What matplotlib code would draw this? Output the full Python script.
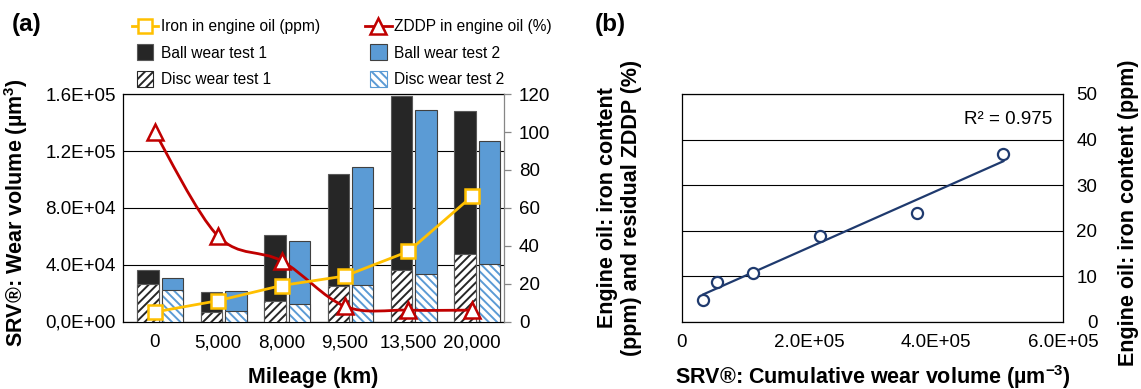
import matplotlib
matplotlib.use('Agg')
import matplotlib.pyplot as plt
import numpy as np
from matplotlib.path import Path
from matplotlib.patches import PathPatch, Patch, Rectangle
from matplotlib.lines import Line2D
from matplotlib.legend_handler import HandlerPatch

plt.rcParams['font.family'] = ['Liberation Sans', 'DejaVu Sans']
plt.rcParams['mathtext.fontset'] = 'custom'
plt.rcParams['mathtext.rm'] = 'Liberation Sans'
plt.rcParams['mathtext.bf'] = 'Liberation Sans:bold'
plt.rcParams['hatch.linewidth'] = 1.4

# (a) SRV wear volume vs mileage
mileage = ['0', '5,000', '8,000', '9,500', '13,500', '20,000']
ball_1 = [36000, 20700, 60700, 103800, 158800, 148000]
ball_2 = [30300, 21400, 56700, 108500, 149200, 127000]
disc_1 = [26600, 6800, 14600, 25200, 36200, 47800]
disc_2 = [22100, 7100, 12000, 25600, 33400, 40700]
iron_ppm = [5, 11, 19, 24, 37, 66]
zddp_pct = [100, 45, 32, 8, 6, 6]
wear_ticks = [0, 4e4, 8e4, 1.2e5, 1.6e5]
wear_ticklabels = ['0,0E+00', '4.0E+04', '8.0E+04', '1.2E+05', '1.6E+05']
oil_ticks = [0, 20, 40, 60, 80, 100, 120]

# (b) iron content vs cumulative wear volume
cum_wear = [34000, 55000, 112000, 217500, 370500, 505700]
iron_b = [4.7, 8.7, 10.8, 18.8, 23.8, 36.8]
cum_ticks = [0, 2e5, 4e5, 6e5]
cum_ticklabels = ['0', '2.0E+05', '4.0E+05', '6.0E+05']
iron_b_ticks = [0, 10, 20, 30, 40, 50]
r2_label = 'R² = 0.975'

BLACK = '#262626'
BLUE = '#5B9BD5'
ORANGE = '#FFC000'
RED = '#C00000'
NAVY = '#1F3A6E'
TICK_FS = 13.5
LABEL_FS = 15.5


def smooth_path(x, y):
    # Catmull-Rom style cubic Bezier through the points (spreadsheet "smoothed line")
    pts = np.column_stack([x, y]).astype(float)
    ext = np.vstack([pts[0], pts, pts[-1]])
    verts = [pts[0]]
    codes = [Path.MOVETO]
    for i in range(len(pts) - 1):
        p0, p1, p2, p3 = ext[i], ext[i + 1], ext[i + 2], ext[i + 3]
        verts += [p1 + (p2 - p0) / 6, p2 - (p3 - p1) / 6, p2]
        codes += [Path.CURVE4] * 3
    return Path(verts, codes)


def square_patch(legend, orig_handle, xdescent, ydescent, width, height, fontsize):
    s = 1.05 * fontsize
    return Rectangle((-xdescent + (width - s) / 2, -ydescent + (height - s) / 2), s, s)


W, H = 1141, 389
fig = plt.figure(figsize=(W / 100, H / 100), dpi=100)
ax = fig.add_axes([123 / W, 1 - 321.5 / H, 380.5 / W, 227.3 / H])
ax_b = fig.add_axes([681.7 / W, 1 - 321.7 / H, 381.6 / W, 227.7 / H])

# ---------- panel (a) ----------
x = np.arange(len(mileage))
bw = 0.34
ax.bar(x - 0.105, ball_1, bw, color=BLACK, edgecolor='#595959', lw=0.8, zorder=2)
ax.bar(x + 0.28, ball_2, bw, color=BLUE, edgecolor='#404040', lw=0.8, zorder=2)
ax.bar(x - 0.105, disc_1, bw, color='white', edgecolor=BLACK, hatch='////', lw=0, zorder=3)
ax.bar(x + 0.28, disc_2, bw, color='white', edgecolor=BLUE, hatch='\\\\\\\\', lw=0, zorder=3)
ax.bar(x - 0.105, disc_1, bw, fill=False, edgecolor='#595959', lw=0.8, zorder=4)
ax.bar(x + 0.28, disc_2, bw, fill=False, edgecolor='#404040', lw=0.8, zorder=4)

ax.set_xlim(-0.5, len(mileage) - 0.5)
ax.set_ylim(0, 1.6e5)
ax.set_yticks(wear_ticks)
ax.set_yticklabels(wear_ticklabels)
ax.set_xticks(x)
ax.set_xticklabels(mileage)
ax.tick_params(axis='y', length=0, pad=5, labelsize=TICK_FS)
ax.tick_params(axis='x', length=0, pad=9, labelsize=TICK_FS)
ax.set_axisbelow(True)
ax.yaxis.grid(True, color='black', lw=0.8)
for side in ['left', 'top', 'bottom']:
    ax.spines[side].set_color('black')
    ax.spines[side].set_linewidth(0.9)
ax.spines['right'].set_visible(False)

ax.set_xlabel('Mileage (km)', fontsize=LABEL_FS, fontweight='bold')
ax.xaxis.set_label_coords(0.5, -0.2)
ax.set_ylabel(r'SRV®: Wear volume (µm$^{\mathbf{3}}$)', fontsize=LABEL_FS, fontweight='bold')
ax.yaxis.set_label_coords(-0.245, 0.48)

ax2 = ax.twinx()
ax2.set_ylim(0, 120)
ax2.set_yticks(oil_ticks)
ax2.tick_params(axis='y', length=5, width=0.9, color='#868686', pad=6, labelsize=TICK_FS)
for side in ['left', 'top', 'bottom']:
    ax2.spines[side].set_visible(False)
ax2.spines['right'].set_color('#868686')
ax2.spines['right'].set_linewidth(0.9)

ax2.add_patch(PathPatch(smooth_path(x, zddp_pct), facecolor='none', edgecolor=RED, lw=2, zorder=4))
ax2.plot(x, zddp_pct, ls='none', marker='^', ms=11, mfc='white', mec=RED, mew=1.8, zorder=5)
ax2.plot(x, iron_ppm, color=ORANGE, lw=2, marker='s', ms=9.5, mfc='white', mec=ORANGE,
         mew=1.8, zorder=6)

handles = [
    Line2D([], [], color=ORANGE, lw=2, marker='s', ms=9.5, mfc='white', mec=ORANGE, mew=1.8),
    Patch(facecolor=BLACK, edgecolor='#595959', lw=0.8),
    Patch(facecolor='white', edgecolor=BLACK, hatch='////', lw=0.8),
    Line2D([], [], color=RED, lw=2, marker='^', ms=11, mfc='white', mec=RED, mew=1.8),
    Patch(facecolor=BLUE, edgecolor='#404040', lw=0.8),
    Patch(facecolor='white', edgecolor=BLUE, hatch='\\\\\\\\', lw=0.8),
]
labels = ['Iron in engine oil (ppm)', 'Ball wear test 1', 'Disc wear test 1',
          'ZDDP in engine oil (%)', 'Ball wear test 2', 'Disc wear test 2']
fig.legend(handles, labels, loc='upper left', bbox_to_anchor=(131.7 / W, 1 - 19 / H),
           ncol=2, frameon=False, fontsize=11.2, borderpad=0, borderaxespad=0,
           handlelength=1.72, handletextpad=0.15, columnspacing=2.9, labelspacing=0.75,
           numpoints=1, handler_map={Patch: HandlerPatch(patch_func=square_patch)})

fig.text(12 / W, 1 - 24 / H, '(a)', fontsize=17.5, fontweight='bold', va='center')

# ---------- panel (b) ----------
fit = np.polyfit(cum_wear, iron_b, 1)
xf = np.array([min(cum_wear), max(cum_wear)])
ax_b.plot(xf, np.polyval(fit, xf), color=NAVY, lw=1.6, zorder=3)
ax_b.plot(cum_wear, iron_b, ls='none', marker='o', ms=8, mfc='white', mec=NAVY, mew=1.6, zorder=4)

ax_b.set_xlim(0, 6e5)
ax_b.set_ylim(0, 50)
ax_b.set_xticks(cum_ticks)
ax_b.set_xticklabels(cum_ticklabels)
ax_b.set_yticks(iron_b_ticks)
ax_b.yaxis.tick_right()
ax_b.yaxis.set_label_position('left')
ax_b.tick_params(axis='y', length=0, pad=24.5, labelsize=TICK_FS)
ax_b.tick_params(axis='x', length=0, pad=9, labelsize=TICK_FS)
for lab in ax_b.get_yticklabels():
    lab.set_ha('right')
ax_b.set_axisbelow(True)
ax_b.yaxis.grid(True, color='black', lw=0.8)
for side in ax_b.spines:
    ax_b.spines[side].set_color('black')
    ax_b.spines[side].set_linewidth(0.9)

ax_b.text(0.97, 0.89, r2_label, transform=ax_b.transAxes, ha='right', va='center',
          fontsize=TICK_FS)

ax_b.set_xlabel(r'SRV®: Cumulative wear volume (µm$^{\mathbf{-3}}$)', fontsize=LABEL_FS,
                fontweight='bold')
ax_b.xaxis.set_label_coords(0.5, -0.18)
ax_b.set_ylabel('Engine oil: iron content\n(ppm) and residual ZDDP (%)', fontsize=LABEL_FS,
                fontweight='bold')
ax_b.yaxis.set_label_coords(-0.104, 0.5)
ax_b.text(1.17, 0.48, 'Engine oil: iron content (ppm)', transform=ax_b.transAxes,
          rotation=90, ha='center', va='center', fontsize=LABEL_FS, fontweight='bold')

fig.text(595 / W, 1 - 25 / H, '(b)', fontsize=17.5, fontweight='bold', va='center')

fig.savefig('out.png', dpi=100)
